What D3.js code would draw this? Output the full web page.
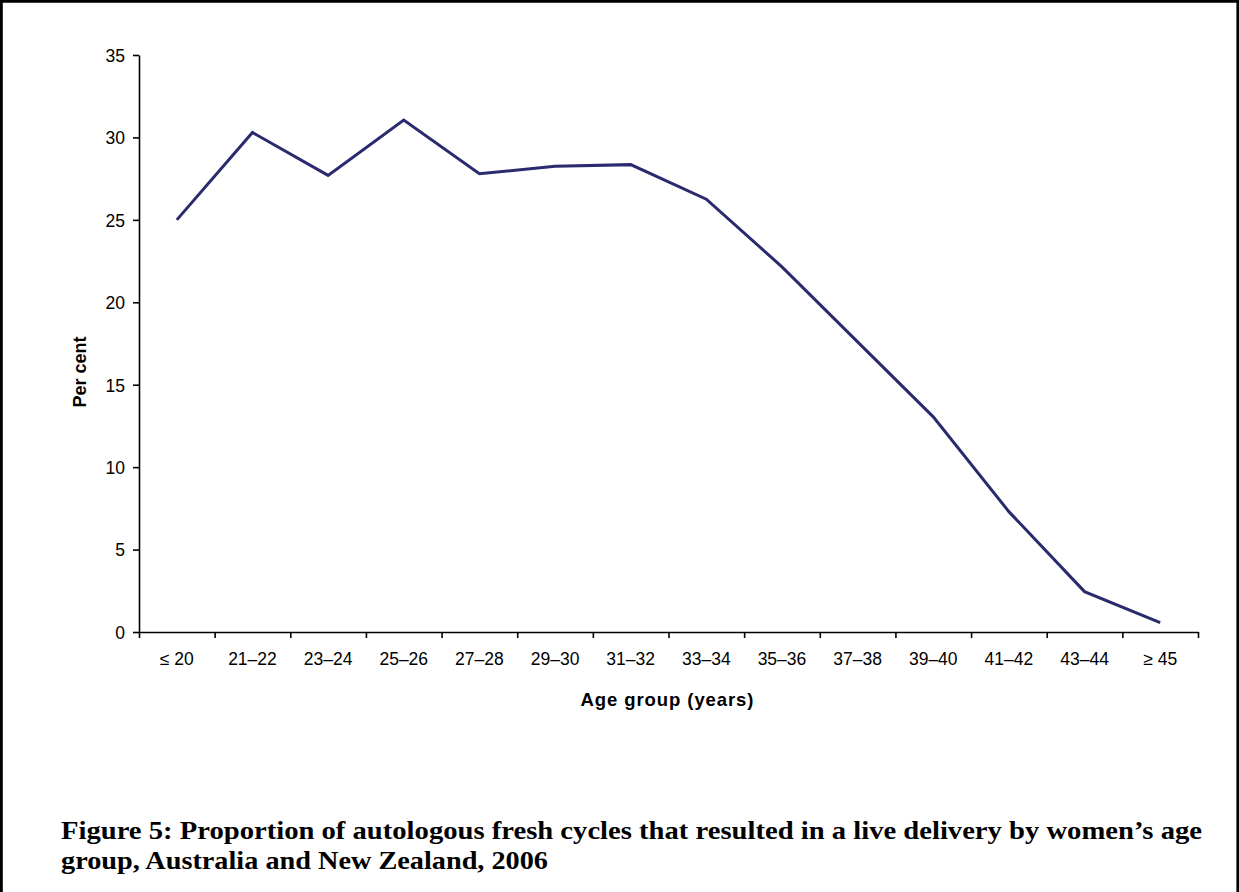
<!DOCTYPE html>
<html>
<head>
<meta charset="utf-8">
<script src="https://cdn.jsdelivr.net/npm/d3@7"></script>
<style>
  html, body { margin: 0; padding: 0; background: #fff; }
  svg { display: block; }
</style>
</head>
<body>
<main></main>
<script>
const width = 1239;
const height = 892;

const ageGroups = ['≤ 20', '21–22', '23–24', '25–26', '27–28', '29–30', '31–32',
                   '33–34', '35–36', '37–38', '39–40', '41–42', '43–44', '≥ 45'];
const liveDelivery = [25.0, 30.3, 27.7, 31.05, 27.8, 28.25, 28.35,
                      26.25, 22.15, 17.6, 13.05, 7.3, 2.45, 0.57];
const yTicks = [0, 5, 10, 15, 20, 25, 30, 35];
const captionLines = [
    'Figure 5: Proportion of autologous fresh cycles that resulted in a live delivery by women’s age',
    'group, Australia and New Zealand, 2006'
];

const plot = { left: 139, right: 1198, top: 55, bottom: 632 };

const createCanvas = () => {
    return d3.select('main')
             .append('svg')
             .attr('width', width)
             .attr('height', height);
};

const defineScales = () => {
    const xBand = d3.scaleBand().domain(ageGroups)
                                .range([plot.left, plot.right])
                                .paddingInner(0).paddingOuter(0);
    const xEdge = d3.scaleLinear().domain([0, ageGroups.length])
                                  .range([plot.left, plot.right]);
    const yScale = d3.scaleLinear().domain([0, 35])
                                   .range([plot.bottom, plot.top]);
    return { xBand, xEdge, yScale };
};

const createAxis = (scales, svg) => {
    // tick marks sit on the category edges
    svg.append('g')
       .attr('id', 'x-axis')
       .attr('transform', 'translate(0,' + plot.bottom + ')')
       .call(d3.axisBottom(scales.xEdge)
               .tickValues(d3.range(ageGroups.length + 1))
               .tickFormat('')
               .tickSize(6)
               .tickSizeOuter(0));

    // labels sit in the middle of each category
    svg.append('g')
       .attr('id', 'x-labels')
       .attr('transform', 'translate(0,' + plot.bottom + ')')
       .call(d3.axisBottom(scales.xBand).tickSize(0).tickPadding(21))
       .call(g => g.select('.domain').remove());

    svg.append('g')
       .attr('id', 'y-axis')
       .attr('transform', 'translate(' + plot.left + ',0)')
       .call(d3.axisLeft(scales.yScale)
               .tickValues(yTicks)
               .tickSize(6)
               .tickSizeOuter(0)
               .tickPadding(8));

    svg.selectAll('#x-axis path, #x-axis line, #y-axis path, #y-axis line')
       .attr('stroke', '#000')
       .attr('stroke-width', 1.6);

    svg.selectAll('#x-labels text, #y-axis text')
       .attr('font-family', 'Liberation Sans, Arial, sans-serif')
       .attr('font-size', 17.5)
       .attr('fill', '#000');

    svg.selectAll('#y-axis text').attr('dy', '0.36em');
    svg.selectAll('#x-labels text').attr('dy', '0.68em');
};

const createLine = (scales, svg) => {
    const line = d3.line()
                   .x((d, i) => scales.xBand(ageGroups[i]) + scales.xBand.bandwidth() / 2)
                   .y(d => scales.yScale(d));
    svg.append('path')
       .datum(liveDelivery)
       .attr('d', line)
       .attr('fill', 'none')
       .attr('stroke', '#2a2a6e')
       .attr('stroke-width', 3)
       .attr('stroke-linejoin', 'miter');
};

const createLabels = (svg) => {
    svg.append('text')
       .attr('x', 667)
       .attr('y', 706)
       .attr('text-anchor', 'middle')
       .attr('font-family', 'Liberation Sans, Arial, sans-serif')
       .attr('font-weight', 'bold')
       .attr('font-size', 18.5)
       .attr('textLength', 173)
       .attr('lengthAdjust', 'spacing')
       .text('Age group (years)');

    svg.append('text')
       .attr('transform', 'translate(86,372) rotate(-90)')
       .attr('text-anchor', 'middle')
       .attr('font-family', 'Liberation Sans, Arial, sans-serif')
       .attr('font-weight', 'bold')
       .attr('font-size', 18)
       .text('Per cent');

    const captionWidths = [1141, 487];
    svg.selectAll('text.caption')
       .data(captionLines)
       .enter()
       .append('text')
       .attr('class', 'caption')
       .attr('x', 61)
       .attr('y', (d, i) => 839 + i * 30)
       .attr('font-family', 'Liberation Serif, Times New Roman, serif')
       .attr('font-weight', 'bold')
       .attr('font-size', 25.5)
       .attr('textLength', (d, i) => captionWidths[i])
       .attr('lengthAdjust', 'spacingAndGlyphs')
       .text(d => d);
};

const createFrame = (svg) => {
    svg.append('path')
       .attr('d', 'M1.4,' + height + ' V1.4 H1237.8 V' + height)
       .attr('fill', 'none')
       .attr('stroke', '#000')
       .attr('stroke-width', 2.8);
};

const driver = () => {
    const svg = createCanvas();
    const scales = defineScales();
    createFrame(svg);
    createAxis(scales, svg);
    createLine(scales, svg);
    createLabels(svg);
};

driver();
</script>
</body>
</html>
